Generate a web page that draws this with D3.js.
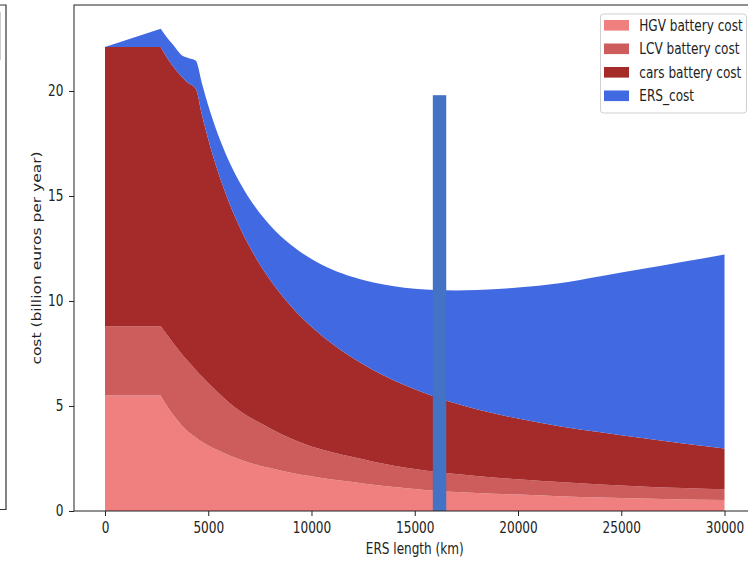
<!DOCTYPE html>
<html>
<head>
<meta charset="utf-8">
<script src="https://cdn.jsdelivr.net/npm/d3@7"></script>
<style>
  body { margin: 0; background: #fff; }
  svg { display: block; }
  text { font-family: "DejaVu Sans", sans-serif; fill: #222; }
</style>
</head>
<body>
<svg width="748" height="561"></svg>
<script>
// ERS length (km) sample points
var ersLength = [0, 2700, 3000, 3300, 3700, 4000, 4400, 4700, 5000, 5500, 6000, 6500,
  7000, 7500, 8000, 9000, 10000, 11000, 12000, 13000, 14000, 15000, 16000, 17000,
  18000, 20000, 22000, 24000, 26000, 28000, 30000];
// cost per series, billion euros per year (stacked in this order)
var hgvCost  = [5.5, 5.5, 5.0, 4.58, 4.1, 3.8, 3.5, 3.3, 3.12, 2.88, 2.65, 2.46,
  2.3, 2.16, 2.05, 1.82, 1.65, 1.5, 1.38, 1.25, 1.14, 1.05, 0.97, 0.91,
  0.86, 0.78, 0.7, 0.64, 0.59, 0.55, 0.52];
var lcvCost  = [3.3, 3.3, 3.4, 3.42, 3.4, 3.35, 3.22, 3.1, 2.98, 2.74, 2.52, 2.32,
  2.17, 2.04, 1.88, 1.63, 1.42, 1.3, 1.19, 1.1, 1.02, 0.95, 0.9, 0.85,
  0.81, 0.73, 0.68, 0.62, 0.58, 0.54, 0.51];
var carsCost = [13.3, 13.3, 13.2, 13.17, 13.2, 13.25, 13.38, 12.44, 11.6, 10.45, 9.55, 8.79,
  8.12, 7.54, 7.07, 6.31, 5.7, 5.16, 4.71, 4.35, 4.06, 3.8, 3.56, 3.36,
  3.18, 2.89, 2.66, 2.49, 2.31, 2.13, 1.95];
var ersCost  = [0, 0.87, 0.95, 1.03, 1.02, 1.18, 1.34, 1.51, 1.61, 1.79, 1.95, 2.12,
  2.28, 2.44, 2.6, 2.92, 3.23, 3.54, 3.86, 4.18, 4.48, 4.78, 5.09, 5.38,
  5.67, 6.24, 6.81, 7.43, 8.04, 8.65, 9.24];
var seriesNames = ["HGV battery cost", "LCV battery cost", "cars battery cost", "ERS_cost"];
var seriesColors = ["#f08080", "#cd5c5c", "#a52a2a", "#4169e1"];
// single highlighted bar
var barPos = [16200];
var barValue = [19.8];
var xTicks = [0, 5000, 10000, 15000, 20000, 25000, 30000];
var yTicks = [0, 5, 10, 15, 20];

var SQ = 0.78; // the picture's text is squeezed horizontally
var svg = d3.select("svg");
var m = { left: 74, right: 755.5, top: 5, bottom: 511 };

var x = d3.scaleLinear().domain([-1500, 31500]).range([m.left, m.right]);
var y = d3.scaleLinear().domain([0, 24.095]).range([m.bottom, m.top]);

var table = ersLength.map(function (d, i) {
    return { len: d, s0: hgvCost[i], s1: lcvCost[i], s2: carsCost[i], s3: ersCost[i] };
});
var stacked = d3.stack().keys(["s0", "s1", "s2", "s3"])(table);

function areaWith(curve) {
    return d3.area()
        .curve(curve)
        .x(function (d) { return x(d.data.len); })
        .y0(function (d) { return y(d[0]); })
        .y1(function (d) { return y(d[1]); });
}
var straight = areaWith(d3.curveLinear);
var smooth = areaWith(d3.curveMonotoneX);

// first stretch (0-2700) is straight, the rest smooth; one path per layer so no seam
svg.selectAll("path.layer")
    .data(stacked)
    .enter()
    .append("path")
    .attr("class", "layer")
    .attr("d", function (layer) {
        return straight(layer.slice(0, 2)) + smooth(layer.slice(1));
    })
    .style("fill", function (d, i) { return seriesColors[i]; });

// bar
var barW = 650;
svg.selectAll("rect.bar")
    .data(barPos)
    .enter()
    .append("rect")
    .attr("class", "bar")
    .attr("x", function (d) { return x(d - barW / 2); })
    .attr("width", x(barW) - x(0))
    .attr("y", function (d, i) { return y(barValue[i]); })
    .attr("height", function (d, i) { return y(0) - y(barValue[i]); })
    .style("fill", "#4472c4");

// axes
var xAxis = svg.append("g")
    .attr("transform", "translate(0," + m.bottom + ")")
    .call(d3.axisBottom(x).tickValues(xTicks).tickFormat(d3.format("d"))
        .tickSize(5).tickPadding(6).tickSizeOuter(0));
var yAxis = svg.append("g")
    .attr("transform", "translate(" + m.left + ",0)")
    .call(d3.axisLeft(y).tickValues(yTicks).tickSize(5).tickPadding(8.7).tickSizeOuter(0));

[xAxis, yAxis].forEach(function (g) {
    g.select(".domain").remove();
    g.selectAll(".tick line").attr("stroke", "#222");
    g.selectAll(".tick text")
        .attr("font-family", "DejaVu Sans")
        .attr("font-size", 15.5)
        .attr("fill", "#222")
        .attr("transform", "scale(" + SQ + ",1)");
});

// frame (right spine falls outside the window)
svg.append("rect")
    .attr("x", m.left).attr("y", m.top)
    .attr("width", m.right - m.left).attr("height", m.bottom - m.top)
    .style("fill", "none").style("stroke", "#222").style("stroke-width", 1);

// axis labels
svg.append("text")
    .attr("transform", "translate(" + ((m.left + m.right) / 2) + ",554) scale(" + SQ + ",1)")
    .attr("text-anchor", "middle")
    .style("font-size", "15.5px")
    .text("ERS length (km)");
svg.append("text")
    .attr("transform", "translate(41," + ((m.top + m.bottom) / 2) + ") scale(" + SQ + ",1) rotate(-90)")
    .attr("text-anchor", "middle")
    .style("font-size", "15.5px")
    .text("cost (billion euros per year)");

// legend
var legend = svg.append("g");
legend.append("rect")
    .attr("x", 600.5).attr("y", 14).attr("width", 146).attr("height", 99)
    .attr("rx", 3)
    .style("fill", "#fff").style("stroke", "#d0d0d0");
var rows = legend.selectAll("g.row")
    .data(seriesNames)
    .enter()
    .append("g")
    .attr("class", "row")
    .attr("transform", function (d, i) { return "translate(604," + (25.3 + i * 23.5) + ")"; });
rows.append("rect")
    .attr("x", 0).attr("y", -5.3).attr("width", 25).attr("height", 10.6)
    .style("fill", function (d, i) { return seriesColors[i]; });
rows.append("text")
    .attr("transform", "translate(35.3,5.5) scale(" + SQ + ",1)")
    .style("font-size", "15.5px")
    .text(function (d) { return d; });

// edge of the neighbouring panel on the left
svg.append("path")
    .attr("d", "M-2,5H6V509.5H-2")
    .style("fill", "none").style("stroke", "#333").style("stroke-width", 1.2);
svg.append("line")
    .attr("x1", 0.5).attr("x2", 0.5).attr("y1", 12).attr("y2", 60)
    .style("stroke", "#ccc");
</script>
</body>
</html>
